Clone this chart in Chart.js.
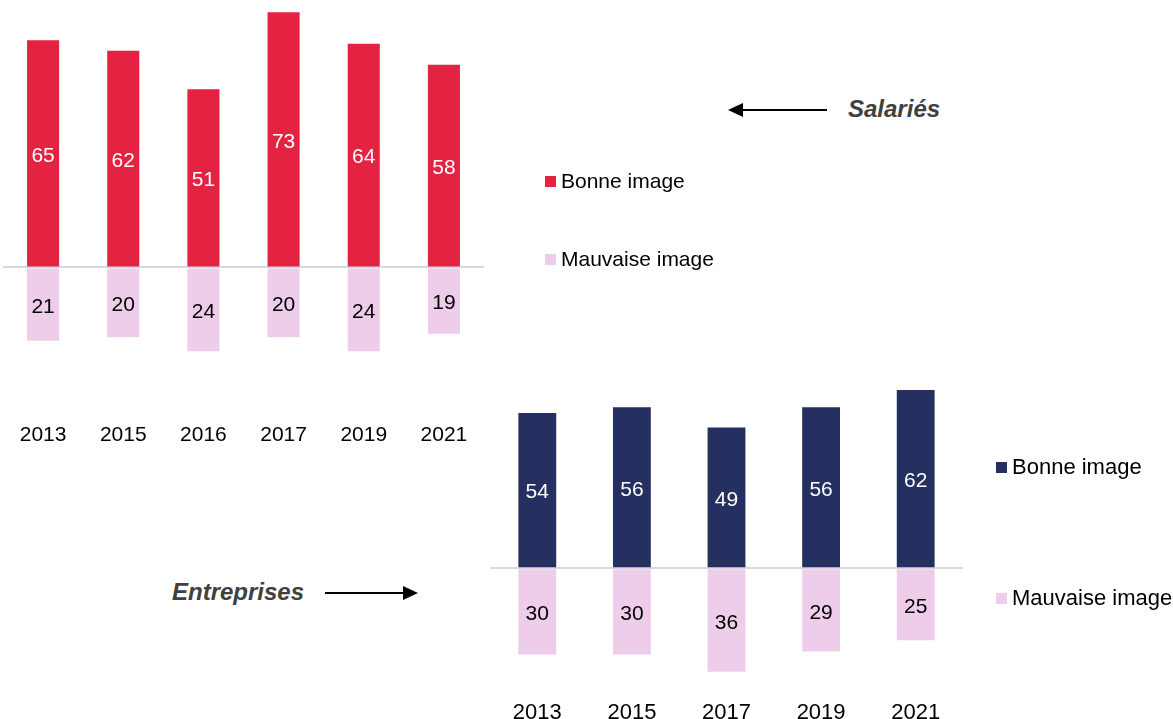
<!DOCTYPE html>
<html>
<head>
<meta charset="utf-8">
<script src="https://cdn.jsdelivr.net/npm/chart.js@4.4.1/dist/chart.umd.min.js"></script>
<style>
    body {
        margin: 0;
        width: 1173px;
        height: 719px;
        background: #fff;
        position: relative;
        overflow: hidden;
        font-family: "Liberation Sans", Arial, sans-serif;
    }
    canvas { position: absolute; }
    #salaries { left: 0; top: 0; }
    #entreprises { left: 487px; top: 380px; }
    .legend-item {
        position: absolute;
        display: flex;
        align-items: center;
        white-space: nowrap;
        color: #000;
        height: 24px;
    }
    .legend-item span.box {
        width: 11px;
        height: 11px;
        margin-right: 5px;
    }
    .tag {
        position: absolute;
        font-size: 24px;
        font-weight: bold;
        font-style: italic;
        color: #404040;
        line-height: 28px;
        white-space: nowrap;
    }
    svg { position: absolute; left: 0; top: 0; }
</style>
</head>
<body>
<canvas id="salaries" width="487" height="452"></canvas>
<canvas id="entreprises" width="479" height="350"></canvas>

<div class="tag" style="left:848px; top:95px;">Salariés</div>
<div class="tag" style="left:172px; top:578px;">Entreprises</div>

<svg width="1173" height="719">
    <line x1="827" y1="110" x2="740" y2="110" stroke="#000" stroke-width="2"/>
    <polygon points="728,110 743,103 743,117" fill="#000"/>
    <line x1="325" y1="593" x2="405" y2="593" stroke="#000" stroke-width="2"/>
    <polygon points="418,593 403,586 403,600" fill="#000"/>
</svg>

<script>
// Salariés
const salYears = ['2013', '2015', '2016', '2017', '2019', '2021'];
const salBonne = [65, 62, 51, 73, 64, 58];
const salMauvaise = [21, 20, 24, 20, 24, 19];

// Entreprises
const entYears = ['2013', '2015', '2017', '2019', '2021'];
const entBonne = [54, 56, 49, 56, 62];
const entMauvaise = [30, 30, 36, 29, 25];

const seriesNames = ['Bonne image', 'Mauvaise image'];

const RED = 'rgb(228,34,66)';
const NAVY = 'rgb(37,48,96)';
const PINK = 'rgb(238,205,234)';

// value written in the middle of each bar
const valueLabels = {
    id: 'valueLabels',
    afterDatasetsDraw(chart, args, opts) {
        const ctx = chart.ctx;
        ctx.save();
        ctx.font = opts.size + 'px "Liberation Sans", Arial, sans-serif';
        ctx.textAlign = 'center';
        ctx.textBaseline = 'middle';
        chart.data.datasets.forEach((ds, i) => {
            chart.getDatasetMeta(i).data.forEach((bar, j) => {
                const p = bar.getProps(['x', 'y', 'base'], true);
                ctx.fillStyle = ds.labelColor;
                ctx.fillText(Math.abs(ds.data[j]), p.x, (p.y + p.base) / 2 + 2.5);
            });
        });
        ctx.restore();
    }
};

function makeChart(id, years, bonne, mauvaise, colour, yMin, yMax, tickSize) {
    const ctx = document.getElementById(id).getContext('2d');
    return new Chart(ctx, {
        type: 'bar',
        plugins: [valueLabels],
        data: {
            labels: years,
            datasets: [{
                label: seriesNames[0],
                data: bonne,
                backgroundColor: colour,
                labelColor: '#fff',
            },
            {
                label: seriesNames[1],
                data: mauvaise.map(v => -v),
                backgroundColor: PINK,
                labelColor: '#000',
            }]
        },
        options: {
            responsive: false,
            animation: false,
            categoryPercentage: 1,
            barPercentage: 0.4,
            layout: { padding: { left: 3, right: 3, top: 0, bottom: 0 } },
            plugins: {
                legend: { display: false },
                tooltip: { enabled: false },
                valueLabels: { size: 21 },
            },
            scales: {
                x: {
                    stacked: true,
                    grid: { display: false, drawTicks: false },
                    border: { display: false },
                    ticks: {
                        color: '#000',
                        padding: 4,
                        font: { size: tickSize, family: '"Liberation Sans", Arial, sans-serif' },
                    },
                },
                y: {
                    stacked: true,
                    min: yMin,
                    max: yMax,
                    afterBuildTicks: axis => { axis.ticks = [{ value: 0 }]; },
                    ticks: { display: false },
                    border: { display: false },
                    grid: {
                        drawTicks: false,
                        lineWidth: 2,
                        color: c => c.tick && c.tick.value === 0 ? '#d9d9d9' : 'transparent',
                    },
                },
            },
        },
    });
}

const chartSal = makeChart('salaries', salYears, salBonne, salMauvaise, RED, -43.3, 76.5, 21);
const chartEnt = makeChart('entreprises', entYears, entBonne, entMauvaise, NAVY, -44.3, 65.5, 22);

// legends built from the chart datasets
function htmlLegend(chart, spots, fontSize) {
    chart.data.datasets.forEach((ds, i) => {
        const item = document.createElement('div');
        item.className = 'legend-item';
        item.style.left = spots[i][0] + 'px';
        item.style.top = (spots[i][1] - 12) + 'px';
        item.style.fontSize = fontSize + 'px';
        const box = document.createElement('span');
        box.className = 'box';
        box.style.background = ds.backgroundColor;
        item.appendChild(box);
        item.appendChild(document.createTextNode(ds.label));
        document.body.appendChild(item);
    });
}

htmlLegend(chartSal, [[545, 181], [545, 259]], 21);
htmlLegend(chartEnt, [[996, 467], [996, 598]], 22);
</script>
</body>
</html>
